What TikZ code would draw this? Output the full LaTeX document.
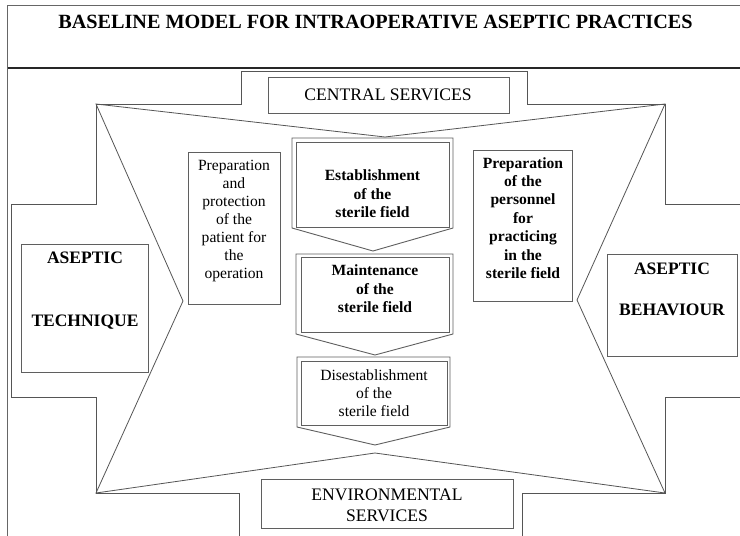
\documentclass[tikz,border=0pt]{standalone}
\usepackage{fontspec}
\setmainfont{Liberation Serif}
\definecolor{lc}{RGB}{85,85,85}
\definecolor{bc}{RGB}{95,95,95}
\begin{document}
\begin{tikzpicture}[x=1pt,y=-1pt,
  ln/.style={draw=lc, line width=0.8pt, line join=miter},
  bx/.style={draw=bc, line width=0.9pt, fill=white},
  txt/.style={inner sep=0pt, align=center, text=black},
  small/.style={txt, font=\fontsize{15.6}{18}\selectfont},
  smallb/.style={txt, font=\fontsize{15.6}{18.4}\selectfont\bfseries},
  big/.style={txt, font=\fontsize{17.6}{21}\selectfont},
  bigb/.style={txt, font=\fontsize{17.5}{21}\selectfont\bfseries}]
\fill[white] (0,0) rectangle (740,536);
\useasboundingbox (0,0) rectangle (740,536);
% frame
\draw[draw=black!60, line width=0.8pt] (744,5) -- (7.5,5) -- (7.5,540);
\draw[draw=black!85, line width=1.5pt] (7.5,68) -- (744,68);
% title
\node[txt, font=\fontsize{20.2}{24}\selectfont\bfseries, anchor=base] (title) at (375.5,28.5)
  {BASELINE MODEL FOR INTRAOPERATIVE ASEPTIC PRACTICES};
% plus shape
\draw[ln] (239,540) -- (239,493) -- (96,493) -- (96,397) -- (11.5,397) -- (11.5,204) -- (96,204)
  -- (96,104) -- (241,104) -- (241,71) -- (527,71) -- (527,104) -- (665,104) -- (665,204) -- (744,204);
\draw[ln] (744,397) -- (665,397) -- (665,493) -- (522,493) -- (522,540);
% star
\draw[ln] (96,104) -- (385,137) -- (665,104) -- (577,300) -- (665,493) -- (375,453)
  -- (96,493) -- (183,301) -- cycle;
% central column
\draw[bx] (292,138) -- (453,138) -- (453,228) -- (373,251) -- (292,228) -- cycle;
\draw[bx] (296.5,142.5) rectangle (449,227);
\draw[bx] (296,254) -- (453,254) -- (453,334) -- (375,355) -- (296,334) -- cycle;
\draw[bx] (301,257.5) rectangle (449.5,332);
\draw[bx] (297,357) -- (450,357) -- (450,427) -- (375,445) -- (297,427) -- cycle;
\draw[bx] (301,361) rectangle (447,425);
% boxes
\draw[bx] (268,77) rectangle (509,113);
\draw[bx] (188,152) rectangle (280,304);
\draw[bx] (473,150) rectangle (572,301);
\draw[bx] (21,244) rectangle (148,372);
\draw[bx] (607,254) rectangle (737,356);
\draw[bx] (261,479) rectangle (513,528);
% texts
\node[big] (cs) at (388,95) {CENTRAL SERVICES};
\node[big] (es) at (387,505.5) {ENVIRONMENTAL\\SERVICES};
\node[small] (pp) at (234,220.5) {Preparation\\and\\protection\\of the\\patient for\\the\\operation};
\node[smallb] (pe) at (523,218) {Preparation\\of the\\personnel\\for\\practicing\\in the\\sterile field};
\node[smallb] (est) at (372.5,194) {Establishment\\of the\\sterile field};
\node[smallb] (mai) at (375,289) {Maintenance\\of the\\sterile field};
\node[small] (dis) at (374,393.5) {Disestablishment\\of the\\sterile field};
\node[bigb] (at) at (85,290.5) {ASEPTIC\\[42pt]TECHNIQUE};
\node[bigb] (ab) at (672,289.5) {ASEPTIC\\[20pt]BEHAVIOUR};
\end{tikzpicture}
\end{document}
